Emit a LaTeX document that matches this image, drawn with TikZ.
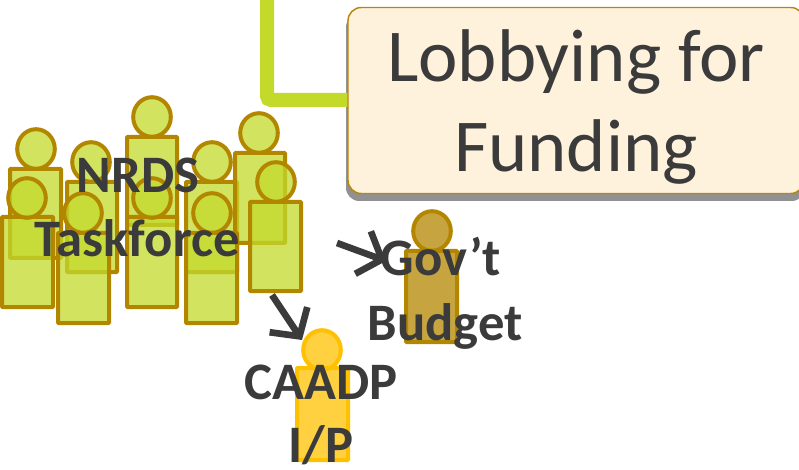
\documentclass[tikz,border=0pt]{standalone}
\usepackage{fontspec}
\setmainfont{Carlito}
\usetikzlibrary{arrows.meta}
\definecolor{lime}{HTML}{C3DA2B}
\definecolor{ochre}{HTML}{B38600}
\definecolor{amberc}{HTML}{FFC000}
\definecolor{inkc}{HTML}{3B3B3B}
\definecolor{creamc}{HTML}{FFF2DC}
\definecolor{boxedge}{HTML}{B8860B}
\tikzset{
  x=0.75pt,y=-0.75pt,
  bodyshape/.style={draw=ochre,line width=3pt,fill=lime,fill opacity=.75,rounded corners=.6pt},
  headshape/.style={draw=ochre,line width=3pt,fill=lime,fill opacity=.75},
  amberp/.style={draw=amberc,fill=amberc,fill opacity=.75},
  ochrep/.style={draw=ochre,fill=ochre,fill opacity=.75},
  bigtext/.style={text=inkc,font=\fontsize{56}{67.5}\selectfont,align=center,inner sep=0pt},
  boldtext/.style={text=inkc,font=\bfseries\fontsize{39.5}{48}\selectfont,align=center,inner sep=0pt},
  flowarrow/.style={draw=inkc,line width=5pt,-{Straight Barb[length=15pt,width=34pt,line width=5pt]}},
  headsize/.style={x radius=18.8,y radius=19.8},
}
\begin{document}
\begin{tikzpicture}
\useasboundingbox (0,0) rectangle (799,470);
% lobbying box
\fill[gray!85!black,opacity=.75,rounded corners=10pt] (346,14) rectangle (805,201);
\node[draw=boxedge,line width=1.1pt,fill=creamc,rounded corners=10pt,minimum width=342pt,minimum height=139.5pt,inner sep=0pt] (lobby) at (576,100.5) {};
\coordinate (linetop) at (267,0);
\draw[lime,line width=10.5pt,rounded corners=3pt] (linetop) -- (267,100) -- (lobby.west |- 0,100);
\node[bigtext,anchor=base] (lobbytxt1) at (576,82) {Lobbying for};
\node[bigtext,anchor=base] (lobbytxt2) at (576,172) {Funding};
% people: back row
\draw[bodyshape] (10,169) rectangle (61,258);
\draw[headshape] (36,149) ellipse [headsize];
\draw[bodyshape] (67,182) rectangle (117,272);
\draw[headshape] (91,162) ellipse [headsize];
\draw[bodyshape] (127,137) rectangle (177,225);
\draw[headshape] (152,117) ellipse [headsize];
\draw[bodyshape] (186,182) rectangle (237,272);
\draw[headshape] (212,162) ellipse [headsize];
\draw[bodyshape] (235,153) rectangle (285,243);
\draw[headshape] (259,133) ellipse [headsize];
% front row
\draw[bodyshape] (2,217) rectangle (53,307);
\draw[headshape] (27,198) ellipse [headsize];
\draw[bodyshape] (58,233) rectangle (109,323);
\draw[headshape] (83,213) ellipse [headsize];
\draw[bodyshape] (127,217) rectangle (177,307);
\draw[headshape] (152,198) ellipse [headsize];
\draw[bodyshape] (186,233) rectangle (237,323);
\draw[headshape] (212,213) ellipse [headsize];
\draw[bodyshape] (250,202) rectangle (301,291);
\draw[headshape] (276,182) ellipse [headsize];
% government
\draw[bodyshape,ochrep] (406,251) rectangle (457,342);
\draw[headshape,ochrep] (432,231) ellipse [headsize];
% CAADP
\draw[bodyshape,amberp] (297,368) rectangle (348,460);
\draw[headshape,amberp] (322,350) ellipse [headsize];
% arrows
\coordinate (a1s) at (337,243); \coordinate (a1e) at (386,261);
\coordinate (a2s) at (272,295); \coordinate (a2e) at (302,340);
\draw[flowarrow] (a1s) -- (a1e);
\draw[flowarrow] (a2s) -- (a2e);
% labels
\node[boldtext,anchor=base] (nrds) at (138,193) {NRDS};
\node[boldtext,anchor=base] (task) at (137,257) {Taskforce};
\node[boldtext,anchor=base] (gov) at (441,276) {Gov’t};
\node[boldtext,anchor=base] (budget) at (445,340) {Budget};
\node[boldtext,anchor=base] (caadp) at (321,399) {CAADP};
\node[boldtext,anchor=base] (ip) at (321,462) {I/P};
\end{tikzpicture}
\end{document}
